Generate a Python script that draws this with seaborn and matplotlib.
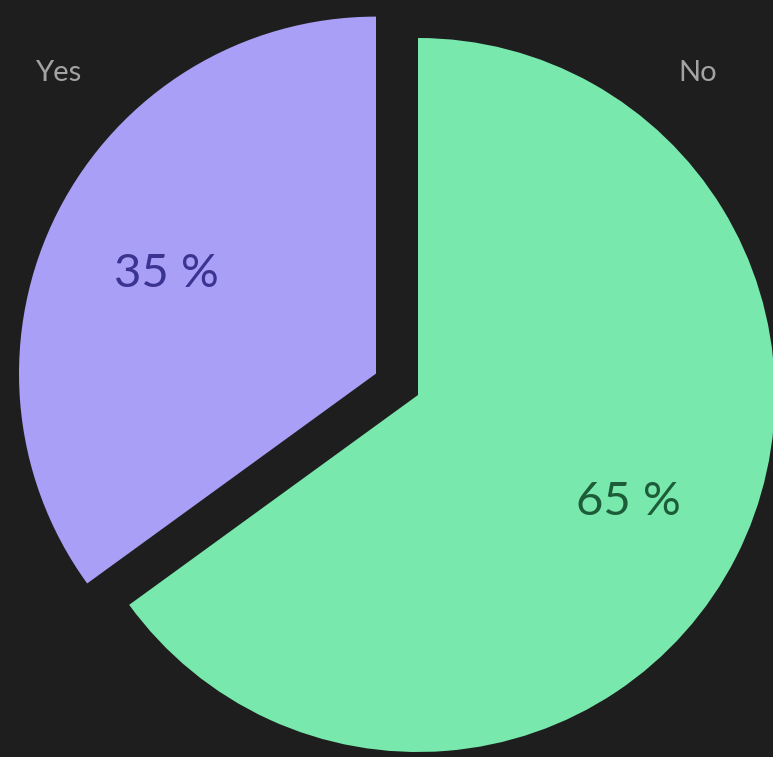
import matplotlib
matplotlib.use("Agg")
import matplotlib.pyplot as plt
import seaborn as sns

# Survey answers
categories = ["No", "Yes"]
shares = [65, 35]
wedge_colors = ["#79e8ad", "#a99ff6"]
pct_colors = ["#1c5c38", "#3b3391"]
explode = [0.0, 0.132]

BG = "#1e1e1e"

sns.set_theme(style="dark", rc={"figure.facecolor": BG, "axes.facecolor": BG})
plt.rcParams["font.family"] = ["Lato", "DejaVu Sans"]

fig = plt.figure(figsize=(7.73, 7.57), dpi=100)
ax = fig.add_axes([0, 0, 1, 1])
ax.set_facecolor(BG)

wedges, texts, autotexts = ax.pie(
    shares,
    colors=wedge_colors,
    explode=explode,
    startangle=90,
    counterclock=False,
    radius=1.0,
    autopct="%.0f %%",
    pctdistance=0.66,
    wedgeprops=dict(linewidth=0),
    textprops=dict(fontsize=34),
)
for t, c in zip(autotexts, pct_colors):
    t.set_color(c)
# nudge the smaller slice's percentage slightly lower inside its wedge
px, py = autotexts[1].get_position()
autotexts[1].set_position((px, py - 0.02))

# Category names sit along the top edge
label_pos = {"Yes": (-1.008, 0.902), "No": (0.784, 0.902)}
for name in categories:
    x, y = label_pos[name]
    ax.text(x, y, name, ha="center", va="center", fontsize=21, color="#a3a3a3")

scale = 357.0
ax.set_xlim(-418 / scale, (773 - 418) / scale)
ax.set_ylim(-(757 - 395) / scale, 395 / scale)
ax.set_aspect("equal")
ax.axis("off")

fig.savefig("out.png", dpi=100, facecolor=BG)
